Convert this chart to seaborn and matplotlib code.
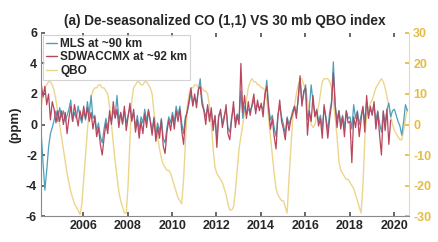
import numpy as np
import pandas as pd
import matplotlib
matplotlib.use("Agg")
import matplotlib.pyplot as plt
import seaborn as sns
from matplotlib.lines import Line2D

# ---------------- data (monthly, starting Feb 2004) ----------------
start_year = 2004.1

mls = [
    -0.5, -2.5, -4.3, -3.0, -1.5, -0.6, -0.2, 0.3, 0.9, 0.2, 1.1,          # 2004
    0.5, 0.9, 0.2, 0.6, 1.0, 1.6, 0.2, 0.8, 0.4, 1.2, 0.5, 0.1,            # 2005
    0.9, 0.3, 1.5, 0.6, 1.9, 0.4, 0.6, -0.4, 0.1, -0.8, -1.2, -0.3,        # 2006
    0.4, -0.2, 0.6, 0.2, 0.9, 0.5, 1.9, 0.3, 0.7, 0.0, 0.9, 0.1,           # 2007
    0.6, 1.1, 0.3, 0.8, -0.2, 0.6, -0.4, 0.5, 0.1, 1.0, 0.2, 1.0,          # 2008
    0.3, -0.4, 0.5, -0.7, 0.1, -0.5, 0.4, -0.9, -1.2, -0.2, 0.5, 0.1,      # 2009
    0.8, 0.1, 1.2, 0.6, 1.2, 0.1, -0.6, 0.5, 0.8, 1.4, 2.1, 1.3,           # 2010
    1.8, 1.4, 2.2, 3.0, 1.6, 1.0, 0.5, 1.1, 0.5, 0.8, 0.0, 0.5,            # 2011
    -0.9, 0.6, 0.8, 0.1, 0.6, 1.0, -0.2, -0.5, 0.5, 1.1, 0.2, 0.7,         # 2012
    0.4, 2.2, 0.4, 1.2, 0.6, 1.0, 0.9, 1.2, 1.6, 0.9, 1.3, 1.1,            # 2013
    1.2, 1.0, 1.8, 2.9, 1.2, 0.3, 0.6, -0.2, -0.8, 0.6, 1.2, 0.5,          # 2014
    0.0, -0.6, 0.5, 0.0, 0.4, 0.9, 1.2, 0.7, 1.6, 3.0, 1.4, 2.0,           # 2015
    2.6, 0.3, 1.0, 2.6, 1.5, 0.6, 1.0, 0.2, 0.6, -0.3, 1.1, 0.5,           # 2016
    -0.4, 0.8, 1.5, 4.1, 1.3, 0.3, 0.9, 0.1, 0.6, -0.2, 0.9, 0.4,          # 2017
    0.5, -0.3, 1.3, 0.4, 0.9, 0.0, 0.6, 1.1, 0.2, 1.5, 0.6, 1.0,           # 2018
    0.7, 1.3, 0.2, 0.9, 0.1, -0.5, 0.8, 0.1, 1.0, 1.4, 0.5, 0.9,           # 2019
    1.0, 0.6, 0.2, -0.1, -0.7, 0.2, 1.3, 0.9,                              # 2020
]

sdwaccmx = [
    2.7, 1.8, 2.5, 1.3, 2.0, 0.3, 1.5, 1.0, 0.1, 0.9, 0.2,                 # 2004
    0.9, 0.0, 0.8, -0.6, 0.4, 1.2, 0.2, 1.3, 0.6, -0.1, 0.9, 0.3,          # 2005
    1.2, 0.4, 1.1, 0.2, 0.8, -0.3, 0.5, -0.8, -0.2, -1.3, -2.0, -0.9,      # 2006
    0.1, -0.6, 0.9, 0.0, 1.5, 0.4, 1.0, -0.2, 0.8, 0.1, 1.2, -0.4,         # 2007
    0.5, 1.4, 0.2, 1.0, -0.5, 0.3, -0.9, 0.2, -0.6, 0.7, -0.2, 0.9,        # 2008
    0.2, -0.7, 0.4, -1.1, -0.2, -0.9, 0.3, -1.4, -1.9, -0.5, 0.3, -0.4,    # 2009
    0.6, -0.3, 0.9, 0.2, 1.0, -0.4, -1.3, 0.3, 0.9, 1.6, 2.4, 1.2,         # 2010
    2.0, 1.1, 2.3, 2.5, 1.3, 0.9, 0.0, 1.3, 0.2, 1.1, -0.4, 0.6,           # 2011
    -1.5, 0.5, 1.0, -0.2, 0.4, 1.3, -0.6, -1.0, 0.3, 1.5, -0.2, 0.6,       # 2012
    0.0, 4.0, 0.8, 1.9, 0.4, 1.5, 0.6, 1.3, 2.0, 0.7, 1.6, 0.9,            # 2013
    1.4, 0.5, 2.0, 2.5, 1.0, -0.3, 0.4, -0.8, -1.6, 0.5, 1.6, 0.2,         # 2014
    -0.3, -1.0, 0.4, -0.4, 0.3, 0.7, 1.2, 0.4, 1.8, 3.2, 1.2, 2.2,         # 2015
    2.4, -0.7, 0.9, 0.2, 1.9, 0.5, 0.9, -0.1, 0.4, -0.9, 1.3, 0.3,         # 2016
    -0.9, 0.4, 1.3, 3.4, 1.2, -0.2, 0.9, -0.3, 0.5, -0.8, 0.9, 0.1,        # 2017
    0.2, -2.5, 0.5, -0.2, 0.8, -0.8, 0.3, 1.2, -0.5, 1.9, 0.4, 1.2,        # 2018
    0.6, 1.5, -0.3, 0.8, -0.7, -2.0, 0.9, -0.4, 1.0, -1.3, 0.3,            # 2019
]

qbo = [
    6, 9, 12, 13, 14, 14, 13, 11, 8, 4, 0,                                 # 2004
    -4, -8, -12, -16, -19, -22, -24, -26, -27, -28, -29.5, -26,            # 2005
    -18, -10, -2, 5, 9, 11, 12, 12, 13, 13, 12, 12,                        # 2006
    11, 10, 6, 0, -6, -12, -17, -22, -25, -27, -29, -29,                   # 2007
    -20, -5, 8, 12, 13, 14, 14, 13, 13, 14, 14, 13,                        # 2008
    12, 10, 4, 0, -4, -8, -11, -13, -14, -15, -15, -16,                    # 2009
    -18, -20, -22, -24, -25, -26, -18, -6, 6, 10, 12, 12,                  # 2010
    13, 13, 12, 12, 12, 11, 11, 10, 6, 0, -8, -14,                         # 2011
    -16, -17, -18, -19, -21, -23, -26, -28, -28, -27, -22, -15,            # 2012
    -8, -4, 0, 4, 8, 12, 14, 15, 14, 14, 13, 13,                           # 2013
    12, 12, 11, 8, 2, -4, -10, -16, -21, -23, -24, -25,                    # 2014
    -25, -27, -29, -18, -8, 2, 6, 10, 13, 15, 15, 13,                      # 2015
    12, 8, 4, 0, -1, 0, 3, 6, 10, 14, 15, 15,                              # 2016
    15, 14, 12, 8, 2, -4, -12, -15, -16, -17, -18, -18,                    # 2017
    -19, -20, -21, -23, -25, -27, -29, -20, -5, 3, 5, 7,                   # 2018
    8, 10, 12, 13, 14, 15, 14, 12, 9, 6, 3, 0,                             # 2019
    -2, -3, -4, -5, -5, -2, 2, 5,                                          # 2020
]

year_ticks = [2006, 2008, 2010, 2012, 2014, 2016, 2018, 2020]
left_ticks = [-6, -4, -2, 0, 2, 4, 6]
right_ticks = [-30, -20, -10, 0, 10, 20, 30]

title = "(a) De-seasonalized CO (1,1) VS 30 mb QBO index"
labels = ["MLS at ~90 km", "SDWACCMX at ~92 km", "QBO"]

# ---------------- build frames ----------------
def times(n):
    return start_year + np.arange(n) / 12.0

df_mls = pd.DataFrame({"t": times(len(mls)), "v": mls})
df_sd = pd.DataFrame({"t": times(len(sdwaccmx)), "v": sdwaccmx})
df_qbo = pd.DataFrame({"t": times(len(qbo)), "v": qbo})

c_mls = "#4e9fba"
c_sd = "#b8475e"
c_qbo = "#ecd68c"
c_right = "#e3bd45"

sns.set_theme(style="white")
plt.rcParams["font.family"] = ["Liberation Sans", "DejaVu Sans"]
plt.rcParams["font.weight"] = "bold"

fig = plt.figure(figsize=(4.38, 2.42), dpi=100)
ax = fig.add_axes([0.094, 0.107, 0.84, 0.757])
ax2 = ax.twinx()

sns.lineplot(data=df_qbo, x="t", y="v", ax=ax2, color=c_qbo, lw=1.0)
sns.lineplot(data=df_mls, x="t", y="v", ax=ax, color=c_mls, lw=0.9)
sns.lineplot(data=df_sd, x="t", y="v", ax=ax, color=c_sd, lw=0.9)

ax.set_zorder(ax2.get_zorder() + 1)
ax.patch.set_visible(False)

ax.set_xlim(2004.1, 2020.68)
ax.set_ylim(-6, 6)
ax2.set_ylim(-30, 30)

ax.set_xticks(year_ticks)
ax.set_xticklabels([str(y) for y in year_ticks], fontsize=9, fontweight="bold")
ax.set_yticks(left_ticks)
ax.set_yticklabels([str(v) for v in left_ticks], fontsize=9, fontweight="bold")
ax2.set_yticks(right_ticks)
ax2.set_yticklabels([str(v) for v in right_ticks], fontsize=9,
                    fontweight="bold", color=c_right)

ax.set_xlabel("")
ax.set_ylabel("(ppm)", fontsize=9.5, fontweight="bold", labelpad=3)
ax2.set_ylabel("")

ax.tick_params(axis="x", direction="in", length=3, pad=3, color="#555555",
               top=True, bottom=True)
ax.tick_params(axis="y", direction="in", length=3, pad=3, color="#555555",
               left=True)
ax2.tick_params(axis="y", direction="in", length=3, pad=3, color=c_right,
                right=True)

for sp in ["top"]:
    ax.spines[sp].set_visible(False)
    ax2.spines[sp].set_visible(False)
ax.spines["left"].set_color("#8a8a8a")
ax.spines["bottom"].set_color("#8a8a8a")
ax.spines["right"].set_visible(False)
ax2.spines["left"].set_visible(False)
ax2.spines["bottom"].set_visible(False)
ax2.spines["right"].set_color("#eedc9e")
for a in (ax, ax2):
    for sp in a.spines.values():
        sp.set_linewidth(0.8)

ax.set_title(title, fontsize=9.8, fontweight="bold", pad=6)

handles = [Line2D([], [], color=c_mls, lw=1.0),
           Line2D([], [], color=c_sd, lw=1.0),
           Line2D([], [], color=c_qbo, lw=1.0)]
leg = ax.legend(handles, labels, loc="upper left",
                prop={"weight": "bold", "size": 8.5},
                frameon=True, fancybox=False, handlelength=0.9,
                handletextpad=0.3, borderpad=0.25, labelspacing=0.15,
                borderaxespad=0.15)
leg.get_frame().set_edgecolor("#c8c8c8")
leg.get_frame().set_linewidth(0.8)

fig.savefig("out.png", dpi=100)
